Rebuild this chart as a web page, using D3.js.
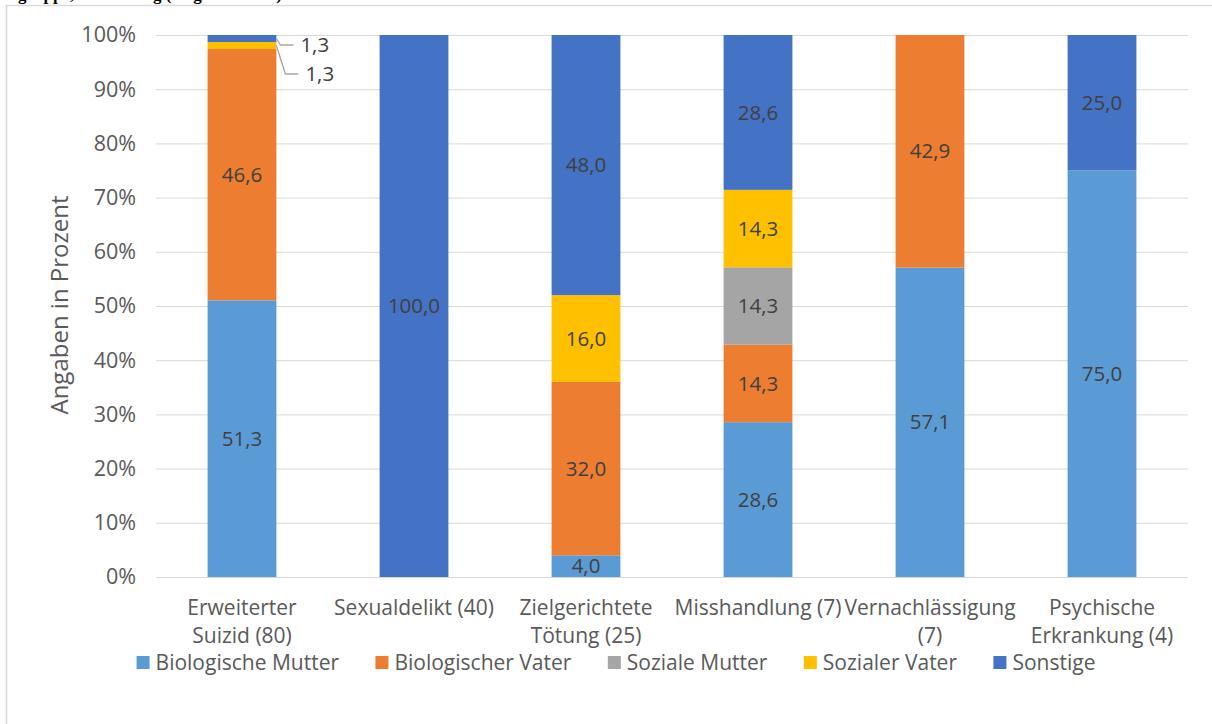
<!DOCTYPE html>
<html>
<head>
<meta charset="utf-8">
<script src="https://cdn.jsdelivr.net/npm/d3@7"></script>
<style>
  html, body { margin: 0; padding: 0; background: #fff; }
  svg { display: block; }
  .chart text { font-family: "Open Sans", sans-serif; }
  .chart .title { font-family: "Liberation Serif", serif; font-weight: bold; font-size: 17px; fill: #000; }
  .grid line { stroke: #d9d9d9; stroke-width: 1; }
  .grid path { display: none; }
  .y.axis path, .y.axis line { display: none; }
  .y.axis text { fill: #595959; font-size: 21.5px; }
  .x-label { fill: #595959; font-size: 21px; }
  .axis-title { fill: #595959; font-size: 24px; }
  .value { fill: #404040; font-size: 20.5px; }
  .leader { stroke: #a6a6a6; stroke-width: 1.3; fill: none; }
  .legend text { fill: #595959; font-size: 21px; }
</style>
</head>
<body>
<div id="stacked-chart"></div>
<script>
// Data (percent per group, stacked to 100%)
var categories = [
  ["Erweiterter", "Suizid (80)"],
  ["Sexualdelikt (40)"],
  ["Zielgerichtete", "Tötung (25)"],
  ["Misshandlung (7)"],
  ["Vernachlässigung", "(7)"],
  ["Psychische", "Erkrankung (4)"]
];
var seriesNames = ["Biologische Mutter", "Biologischer Vater", "Soziale Mutter", "Sozialer Vater", "Sonstige"];
var biologischeMutter = [51.3, 0, 4.0, 28.6, 57.1, 75.0];
var biologischerVater = [46.6, 0, 32.0, 14.3, 42.9, 0];
var sozialeMutter = [0, 0, 0, 14.3, 0, 0];
var sozialerVater = [1.3, 0, 16.0, 14.3, 0, 0];
var sonstige = [1.3, 100.0, 48.0, 28.6, 0, 25.0];
var yTicks = [0, 10, 20, 30, 40, 50, 60, 70, 80, 90, 100];
var seriesColors = ["#5b9bd5", "#ed7d31", "#a5a5a5", "#ffc000", "#4472c4"];

var fmtValue = d => d.toFixed(1).replace(".", ",");

var render = function() {
  var width = 1212;
  var height = 724;

  var margins = { top: 35, right: 24, bottom: 147, left: 156 };
  var chartWidth = width - margins.left - margins.right;
  var chartHeight = height - margins.top - margins.bottom;

  var containerElement = d3.select("#stacked-chart");
  containerElement.html("");

  var svg = containerElement
    .append("svg")
    .attr("class", "chart")
    .attr("width", width)
    .attr("height", height);

  // cut-off title and outer frame from the source document
  svg.append("text")
    .attr("class", "title")
    .attr("x", -6)
    .attr("y", -0.5)
    .text("Tatgruppe, Zuordnung (Angaben in %)");

  svg.append("rect")
    .attr("x", 6.5)
    .attr("y", 5.5)
    .attr("width", width + 20)
    .attr("height", height + 20)
    .attr("fill", "none")
    .attr("stroke", "#d9d9d9")
    .attr("stroke-width", 1.5);

  var chartElement = svg
    .append("g")
    .attr("transform", `translate(${margins.left},${margins.top})`);

  // build rows for the stack
  var seriesValues = [biologischeMutter, biologischerVater, sozialeMutter, sozialerVater, sonstige];
  var rows = categories.map(function(cat, i) {
    var row = { key: cat.join(" "), lines: cat };
    seriesNames.forEach(function(name, s) {
      row[name] = seriesValues[s][i];
    });
    return row;
  });

  var stack = d3.stack()
    .keys(seriesNames)
    .offset(d3.stackOffsetExpand);
  var stacked = stack(rows);

  var xScale = d3.scaleBand()
    .domain(rows.map(d => d.key))
    .range([0, chartWidth])
    .paddingInner(0.6)
    .paddingOuter(0.3);

  var yScale = d3.scaleLinear()
    .domain([0, 1])
    .range([chartHeight, 0]);

  var colorScale = d3.scaleOrdinal()
    .domain(seriesNames)
    .range(seriesColors);

  // grid
  chartElement.append("g")
    .attr("class", "grid")
    .call(
      d3.axisLeft(yScale)
        .tickValues(yTicks.map(t => t / 100))
        .tickSize(-chartWidth)
        .tickFormat("")
    );

  // y axis labels
  chartElement.append("g")
    .attr("class", "y axis")
    .call(
      d3.axisLeft(yScale)
        .tickValues(yTicks.map(t => t / 100))
        .tickSize(0)
        .tickPadding(20)
        .tickFormat(d => Math.round(d * 100) + "%")
    )
    .call(g => g.attr("font-size", null).attr("font-family", null));

  chartElement.append("text")
    .attr("class", "axis-title")
    .attr("text-anchor", "middle")
    .attr("transform", `translate(${-88},${chartHeight / 2 - 1}) rotate(-90)`)
    .text("Angaben in Prozent");

  // bars
  var layers = chartElement.append("g")
    .attr("class", "bars")
    .selectAll("g")
    .data(stacked)
    .enter()
    .append("g")
    .attr("fill", d => colorScale(d.key));

  layers.selectAll("rect")
    .data(d => d.map(v => ({ key: d.key, v: v })))
    .enter()
    .append("rect")
    .attr("x", d => xScale(d.v.data.key))
    .attr("width", xScale.bandwidth())
    .attr("y", d => yScale(d.v[1]))
    .attr("height", d => yScale(d.v[0]) - yScale(d.v[1]));

  // value labels
  var labels = [];
  stacked.forEach(function(layer) {
    layer.forEach(function(v) {
      var value = v.data[layer.key];
      if (!value) return;
      labels.push({ series: layer.key, cat: v.data.key, value: value, y0: v[0], y1: v[1] });
    });
  });

  var inside = labels.filter(d => d.value >= 3);
  var outside = labels.filter(d => d.value < 3).reverse();

  chartElement.append("g")
    .selectAll("text")
    .data(inside)
    .enter()
    .append("text")
    .attr("class", "value")
    .attr("text-anchor", "middle")
    .attr("dy", "0.35em")
    .attr("x", d => xScale(d.cat) + xScale.bandwidth() / 2)
    .attr("y", d => yScale((d.y0 + d.y1) / 2))
    .text(d => fmtValue(d.value));

  // small segments get leader lines
  var callout = chartElement.append("g");
  outside.forEach(function(d, i) {
    var x0 = xScale(d.cat) + xScale.bandwidth();
    var y0 = yScale((d.y0 + d.y1) / 2);
    var ly = yScale(1) + 10 + i * 29;
    var kx = x0 + 4 + i * 5;
    callout.append("polyline")
      .attr("class", "leader")
      .attr("points", [[x0, y0], [kx, ly], [kx + 13, ly]].map(p => p.join(",")).join(" "));
    callout.append("text")
      .attr("class", "value")
      .attr("dy", "0.35em")
      .attr("x", kx + 20)
      .attr("y", ly)
      .text(fmtValue(d.value));
  });

  // x labels
  var xLabels = chartElement.append("g")
    .selectAll("text")
    .data(rows)
    .enter()
    .append("text")
    .attr("class", "x-label")
    .attr("text-anchor", "middle")
    .attr("transform", d => `translate(${xScale(d.key) + xScale.bandwidth() / 2},${chartHeight + 38})`);

  xLabels.selectAll("tspan")
    .data(d => d.lines)
    .enter()
    .append("tspan")
    .attr("x", 0)
    .attr("dy", (d, i) => i ? 28 : 0)
    .text(d => d);

  // legend
  var legend = svg.append("g")
    .attr("class", "legend")
    .attr("transform", `translate(0,${663})`);

  var items = legend.selectAll("g")
    .data(seriesNames)
    .enter()
    .append("g");

  items.append("rect")
    .attr("width", 13)
    .attr("height", 13)
    .attr("y", -7)
    .attr("fill", d => colorScale(d));

  items.append("text")
    .attr("x", 19)
    .attr("dy", "0.35em")
    .text(d => d);

  var gap = 36;
  var offset = 0;
  var positions = [];
  items.each(function() {
    positions.push(offset);
    offset += this.getBBox().width + gap;
  });
  var totalWidth = offset - gap;
  var startX = 616 - totalWidth / 2;
  items.attr("transform", (d, i) => `translate(${startX + positions[i]},0)`);
};

window.onload = render;
</script>
</body>
</html>
